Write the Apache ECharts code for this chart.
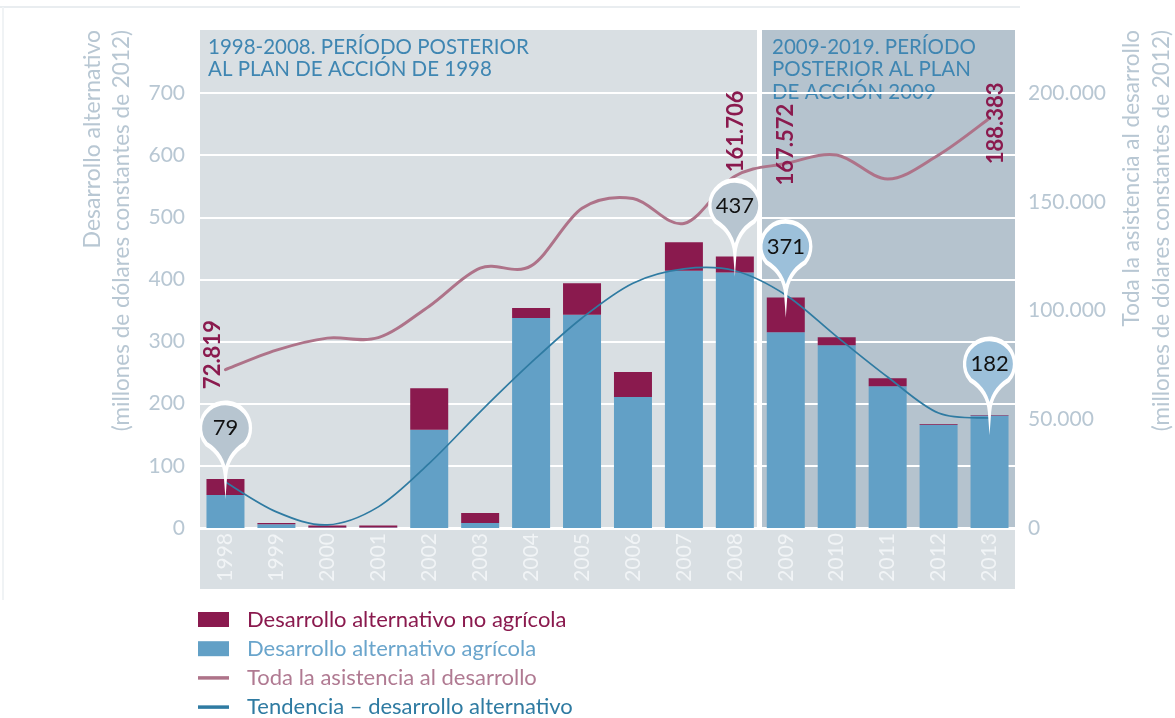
<!DOCTYPE html>
<html>
<head>
<meta charset="utf-8">
<script src="https://cdn.jsdelivr.net/npm/echarts@6/dist/echarts.min.js"></script>
<style>
html,body{margin:0;padding:0;background:#fff;}
#c{width:1175px;height:718px;}
</style>
</head>
<body>
<div id="c"></div>
<script>
// ---- data ----
const years = ['1998','1999','2000','2001','2002','2003','2004','2005','2006','2007','2008','2009','2010','2011','2012','2013'];
const agricola   = [53, 6, 1, 1, 158, 8, 338, 343, 211, 414, 411, 315, 294, 228, 166, 181];
const noAgricola = [26, 2, 3, 3, 67, 16, 16, 51, 40, 46, 26, 56, 13, 13, 1.5, 1];
const todaAsistencia = [72819, 81800, 87300, 87500, 102000, 119500, 120500, 147000, 151500, 140000, 161706, 167572, 171500, 160500, 171500, 188383];
const tendencia = [74, 26, 5, 34, 104, 187, 266, 338, 394, 417, 414, 375, 308, 243, 185, 177];
const bubbleYears = ['1998', '2008', '2009', '2013'];
const todaLabelYears = ['1998', '2008', '2009', '2013'];
const leftAxis = {min: 0, max: 700, interval: 100};
const rightAxis = {min: 0, max: 200000, interval: 50000};
const seriesNames = ['Desarrollo alternativo no agrícola', 'Desarrollo alternativo agrícola', 'Toda la asistencia al desarrollo', 'Tendencia – desarrollo alternativo'];

const FONT = 'Lato';
const C = {
  maroon: '#8a1a4e', blue: '#62a0c6', toda: '#ae7389', trend: '#2f7ba2',
  axis: '#b8c7d3', panelLight: '#d9dfe3', panelDark: '#b5c3ce', title: '#3f86b2'
};
const fmtDot = v => String(Math.round(v)).replace(/\B(?=(\d{3})+(?!\d))/g, '.');

const totals = years.map((y, i) => agricola[i] + noAgricola[i]);
const bubbleColors = {'1998': '#b7c5d0', '2008': '#b7c5d0', '2009': '#9cc0da', '2013': '#9cc0da'};
const pinPath = 'path://M25,73 Q23.5,52 5.85,41.07 A25,25 0 1 1 44.15,41.07 Q26.5,52 25,73 Z';
const todaOffsets = {'1998': [-13, -15], '2008': [1, -45], '2009': [0, -19], '2013': [6, 5]};
const lineIcon = 'path://M0,0L31,0L31,3.5L0,3.5Z';

// smooth curve (Catmull-Rom -> cubic Bezier) through points mapped by the axes
function smoothPath(pts) {
  let d = 'M' + pts[0][0] + ',' + pts[0][1];
  for (let i = 0; i < pts.length - 1; i++) {
    const p0 = pts[i - 1] || pts[i], p1 = pts[i], p2 = pts[i + 1], p3 = pts[i + 2] || pts[i + 1];
    const c1x = p1[0] + (p2[0] - p0[0]) / 6, c1y = p1[1] + (p2[1] - p0[1]) / 6;
    const c2x = p2[0] - (p3[0] - p1[0]) / 6, c2y = p2[1] - (p3[1] - p1[1]) / 6;
    d += ' C' + c1x + ',' + c1y + ' ' + c2x + ',' + c2y + ' ' + p2[0] + ',' + p2[1];
  }
  return d;
}

function curveRenderer(values, color, width, labels) {
  return function (params, api) {
    if (params.dataIndex !== 0) return null;
    const pts = values.map((v, i) => api.coord([i, v]));
    const children = [{
      type: 'path', shape: {pathData: smoothPath(pts)},
      style: {fill: null, stroke: color, lineWidth: width, lineJoin: 'round', lineCap: 'round'}
    }];
    if (labels) {
      labels.years.forEach(y => {
        const i = years.indexOf(y);
        const off = labels.offsets[y];
        children.push({
          type: 'text', x: pts[i][0] + off[0], y: pts[i][1] + off[1], rotation: Math.PI / 2,
          style: {text: fmtDot(values[i]), fill: C.maroon, font: 'bold 22px ' + FONT, align: 'center', verticalAlign: 'middle'},
          z2: 20
        });
      });
    }
    return {type: 'group', children: children};
  };
}

const chart = echarts.init(document.getElementById('c'), null, {renderer: 'canvas'});

const option = {
  animation: false,
  textStyle: {fontFamily: FONT},
  grid: {left: 200, right: 160, top: 93, bottom: 190, containLabel: false},
  graphic: [
    {type: 'line', z: -20, shape: {x1: 0, y1: 7, x2: 1020, y2: 7}, style: {stroke: '#e9edf0', lineWidth: 2}},
    {type: 'line', z: -20, shape: {x1: 3, y1: 7, x2: 3, y2: 600}, style: {stroke: '#f0f3f5', lineWidth: 2}},
    {type: 'rect', z: -10, shape: {x: 200, y: 30, width: 815, height: 559}, style: {fill: C.panelLight}},
    {type: 'rect', z: -9, shape: {x: 757, y: 30, width: 5, height: 498}, style: {fill: '#ffffff'}},
    {type: 'rect', z: -9, shape: {x: 762, y: 30, width: 253, height: 498}, style: {fill: C.panelDark}},
    {type: 'text', z: -5, x: 208, y: 36, style: {text: '1998-2008. PERÍODO POSTERIOR\nAL PLAN DE ACCIÓN DE 1998', font: '20.5px ' + FONT, fill: C.title, lineHeight: 22.5, verticalAlign: 'top'}},
    {type: 'text', z: -5, x: 772, y: 36, style: {text: '2009-2019. PERÍODO\nPOSTERIOR AL PLAN\nDE ACCIÓN 2009', font: '20.5px ' + FONT, fill: C.title, lineHeight: 22.5, verticalAlign: 'top'}},
    {type: 'text', x: 93, y: 30, rotation: Math.PI / 2, style: {text: 'Desarrollo alternativo', font: '23px ' + FONT, fill: C.axis, align: 'right', verticalAlign: 'middle'}},
    {type: 'text', x: 122, y: 30, rotation: Math.PI / 2, style: {text: '(millones de dólares constantes de 2012)', font: '22.5px ' + FONT, fill: C.axis, align: 'right', verticalAlign: 'middle'}},
    {type: 'text', x: 1132, y: 30, rotation: Math.PI / 2, style: {text: 'Toda la asistencia al desarrollo', font: '22.5px ' + FONT, fill: C.axis, align: 'right', verticalAlign: 'middle'}},
    {type: 'text', x: 1162, y: 30, rotation: Math.PI / 2, style: {text: '(millones de dólares constantes de 2012)', font: '22.5px ' + FONT, fill: C.axis, align: 'right', verticalAlign: 'middle'}}
  ],
  legend: {
    orient: 'vertical', left: 198, top: 608.5, height: 130, padding: 0, itemWidth: 31, itemHeight: 15, itemGap: 7.2,
    textStyle: {fontSize: 22, fontFamily: FONT, padding: [0, 0, 0, 13]},
    data: [
      {name: seriesNames[0], icon: 'rect', textStyle: {color: C.maroon}},
      {name: seriesNames[1], icon: 'rect', textStyle: {color: '#6aa5cc'}},
      {name: seriesNames[2], icon: lineIcon, textStyle: {color: '#b07a92'}},
      {name: seriesNames[3], icon: lineIcon, textStyle: {color: C.trend}}
    ]
  },
  xAxis: {
    type: 'category', data: years, boundaryGap: true,
    axisLine: {show: true, lineStyle: {color: '#ffffff', width: 3}},
    axisTick: {show: false},
    axisLabel: {rotate: 90, margin: 5, color: '#f1f4f6', fontSize: 21, fontFamily: FONT},
    splitLine: {show: false}
  },
  yAxis: [
    {
      type: 'value', min: leftAxis.min, max: leftAxis.max, interval: leftAxis.interval,
      axisLine: {show: false}, axisTick: {show: false},
      axisLabel: {color: C.axis, fontSize: 21, margin: 15, fontFamily: FONT},
      splitLine: {show: true, lineStyle: {color: '#ffffff', width: 2}}
    },
    {
      type: 'value', min: rightAxis.min, max: rightAxis.max, interval: rightAxis.interval,
      axisLine: {show: false}, axisTick: {show: false},
      axisLabel: {color: C.axis, fontSize: 21, margin: 13, fontFamily: FONT, formatter: v => fmtDot(v)},
      splitLine: {show: false}
    }
  ],
  series: [
    {
      name: seriesNames[1], type: 'bar', stack: 'da', data: agricola, barWidth: 38,
      itemStyle: {color: C.blue}, z: 2
    },
    {
      name: seriesNames[0], type: 'bar', stack: 'da', data: noAgricola, barWidth: 38,
      itemStyle: {color: C.maroon}, z: 2,
      markPoint: {
        symbol: pinPath, symbolSize: [50, 73], symbolKeepAspect: false,
        symbolOffset: [0, -39.5],
        itemStyle: {borderColor: '#ffffff', borderWidth: 4},
        label: {show: true, position: 'inside', offset: [0, -11.5], color: '#111111', fontSize: 22, fontFamily: FONT,
          formatter: p => String(Math.round(p.value))},
        data: bubbleYears.map(y => {
          const i = years.indexOf(y);
          return {coord: [y, totals[i]], value: totals[i], itemStyle: {color: bubbleColors[y]}};
        }),
        z: 10
      }
    },
    {
      name: seriesNames[2], type: 'custom', yAxisIndex: 1, coordinateSystem: 'cartesian2d',
      data: todaAsistencia.map((v, i) => [i, v]), encode: {x: 0, y: 1},
      itemStyle: {color: C.toda}, z: 3, clip: false,
      renderItem: curveRenderer(todaAsistencia, C.toda, 3, {years: todaLabelYears, offsets: todaOffsets})
    },
    {
      name: seriesNames[3], type: 'custom', yAxisIndex: 0, coordinateSystem: 'cartesian2d',
      data: tendencia.map((v, i) => [i, v]), encode: {x: 0, y: 1},
      itemStyle: {color: C.trend}, z: 4, clip: false,
      renderItem: curveRenderer(tendencia, C.trend, 1.7, null)
    }
  ]
};
chart.setOption(option);
</script>
</body>
</html>
